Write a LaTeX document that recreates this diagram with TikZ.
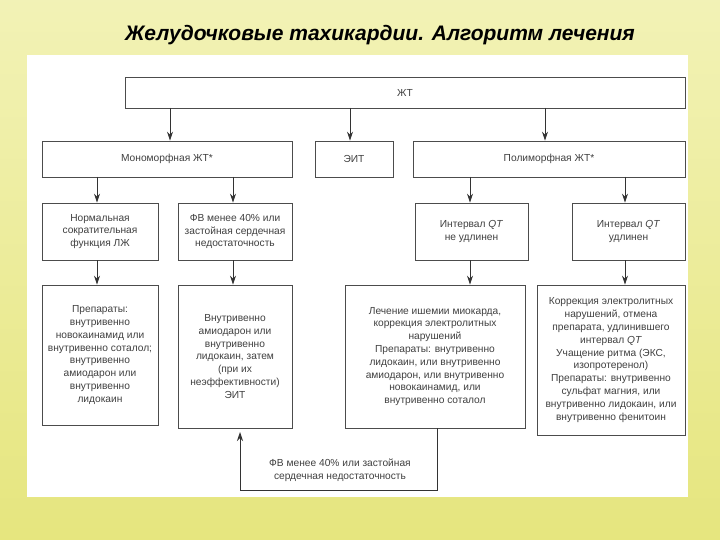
\documentclass[tikz,border=0pt]{standalone}
\usepackage{fontspec}
\setmainfont{Liberation Sans}
\usetikzlibrary{arrows.meta}
\begin{document}
\begin{tikzpicture}[x=1pt,y=-1pt,
  bx/.style={draw=black!70,line width=0.7pt,fill=white,text=black!75,font=\fontsize{10.2}{12.8}\selectfont,align=center,inner sep=2pt},
  ar/.style={draw=black!80,line width=0.9pt,-{Stealth[length=9pt,width=6pt]}}]
\shade[top color=yellow!25!white!95!black, bottom color=yellow!45!white!90!black] (0,0) rectangle (720,540);
\useasboundingbox (0,0) rectangle (720,540);
\fill[white] (27,55) rectangle (688,497);
\node[font=\bfseries\itshape\fontsize{21}{25}\selectfont,text=black] (title) at (380,35) {Желудочковые тахикардии. Алгоритм лечения};
\newcommand{\bxat}[6]{\node[bx,minimum width={#3-#2},minimum height={#5-#4}] (#1) at ({(#2+#3)/2},{(#4+#5)/2}) {#6};}
\bxat{zt}{125}{685}{77}{108}{ЖТ}
\bxat{mono}{42}{292}{141}{177}{Мономорфная ЖТ*}
\bxat{eit}{315}{393}{141}{177}{ЭИТ}
\bxat{poly}{413}{685}{141}{177}{Полиморфная ЖТ*}
\bxat{norm}{42}{158}{203}{260}{Нормальная\\сократительная\\функция ЛЖ}
\bxat{fv}{178}{292}{203}{260}{ФВ менее 40\% или\\застойная сердечная\\недостаточность}
\bxat{qtn}{415}{528}{203}{260}{Интервал \textit{QT}\\не удлинен}
\bxat{qtu}{572}{685}{203}{260}{Интервал \textit{QT}\\удлинен}
\bxat{prep}{42}{158}{285}{425}{Препараты:\\внутривенно\\новокаинамид или\\внутривенно соталол;\\внутривенно\\амиодарон или\\внутривенно\\лидокаин}
\bxat{vnut}{178}{292}{285}{428}{Внутривенно\\амиодарон или\\внутривенно\\лидокаин, затем\\(при их\\неэффективности)\\ЭИТ}
\bxat{lech}{345}{525}{285}{428}{Лечение ишемии миокарда,\\коррекция электролитных\\нарушений\\Препараты: внутривенно\\лидокаин, или внутривенно\\амиодарон, или внутривенно\\новокаинамид, или\\внутривенно соталол}
\bxat{korr}{537}{685}{285}{435}{Коррекция электролитных\\нарушений, отмена\\препарата, удлинившего\\интервал \textit{QT}\\Учащение ритма (ЭКС,\\изопротеренол)\\Препараты: внутривенно\\сульфат магния, или\\внутривенно лидокаин, или\\внутривенно фенитоин}
\draw[ar] (170,108) -- (mono.north -| 170,0);
\draw[ar] (350,108) -- (eit.north -| 350,0);
\draw[ar] (545,108) -- (poly.north -| 545,0);
\draw[ar] (97,177) -- (norm.north -| 97,0);
\draw[ar] (233,177) -- (fv.north -| 233,0);
\draw[ar] (470,177) -- (qtn.north -| 470,0);
\draw[ar] (625,177) -- (qtu.north -| 625,0);
\draw[ar] (97,260) -- (prep.north -| 97,0);
\draw[ar] (233,260) -- (vnut.north -| 233,0);
\draw[ar] (470,260) -- (lech.north -| 470,0);
\draw[ar] (625,260) -- (korr.north -| 625,0);
\coordinate (c1) at (437,490);
\coordinate (c2) at (240,490);
\draw[ar] (lech.south -| 437,0) -- (c1) -- (c2) -- (240,432);
\node[font=\fontsize{10.2}{12.8}\selectfont,text=black!75,align=center] (lab) at (340,470) {ФВ менее 40\% или застойная\\сердечная недостаточность};
\end{tikzpicture}
\end{document}
